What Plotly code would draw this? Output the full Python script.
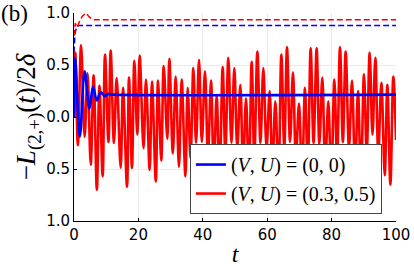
import plotly.graph_objects as go

# ---- data ----
red_peak_t = [0.4, 2.2, 4.2, 6.1, 7.9, 9.63, 11.39, 13.25, 15.22, 17.08, 18.74, 20.39, 22.36, 24.22,
              26.09, 27.85, 29.61, 31.57, 33.44, 35.30, 37.06, 38.82, 40.68, 42.55, 44.31, 46.17,
              47.93, 49.79, 51.66, 53.42, 55.18, 56.94, 58.80, 60.77, 62.53, 64.39, 66.15, 68.01,
              69.88, 71.74, 73.50, 75.36, 77.12, 78.98, 80.85, 82.61, 84.37, 86.34, 88.20, 90.06,
              91.82, 93.58, 95.45, 97.31, 99.17]
red_peak_v = [0.62, 0.69, 0.42, 0.40, 0.30, 0.60, 0.64, 0.375, 0.28, 0.38, 0.54, 0.59, 0.36, 0.34,
              0.35, 0.49, 0.56, 0.39, 0.36, 0.28, 0.47, 0.55, 0.44, 0.35, 0.21, 0.48,
              0.57, 0.47, 0.31, 0.18, 0.53, 0.63, 0.47, 0.25, 0.15, 0.60, 0.67, 0.43,
              0.13, 0.28, 0.66, 0.66, 0.38, 0.15, 0.36, 0.67, 0.63, 0.35, 0.25, 0.41,
              0.62, 0.57, 0.33, 0.31, 0.39]
red_trough_t = [1.2, 3.3, 5.2, 7.1, 8.9, 10.7, 12.4, 14.49, 16.46, 18.0, 19.67, 21.6, 23.5, 25.4,
                27.1, 28.98, 30.7, 32.6, 34.6, 36.2, 37.9, 39.7, 41.6, 43.4, 45.2, 47.0, 48.9,
                50.7, 52.5, 54.3, 56.0, 57.9, 59.8, 61.6, 63.5, 65.3, 67.1, 68.9, 70.8, 72.6,
                74.4, 76.2, 78.0, 79.9, 81.7, 83.5, 85.4, 87.3, 89.1, 90.9, 92.7, 94.5, 96.5,
                98.25]
red_trough_v = [-0.27, -0.19, -0.46, -0.70, -0.57, -0.24, -0.25, -0.49, -0.67, -0.49, -0.17, -0.30,
                -0.51, -0.62, -0.42, -0.21, -0.35, -0.48, -0.57, -0.40, -0.25, -0.24, -0.38,
                -0.55, -0.62, -0.35, -0.25, -0.30, -0.50, -0.62, -0.40, -0.25, -0.30, -0.52,
                -0.60, -0.30, -0.24, -0.40, -0.62, -0.50, -0.25, -0.26, -0.50, -0.65, -0.40,
                -0.24, -0.30, -0.55, -0.60, -0.35, -0.17, -0.36, -0.56, -0.65]
red_start = (0.0, 0.0)
red_end = (100.0, -0.22)

blue_t = [0.0, 0.35, 1.8, 3.3, 4.8, 5.9, 7.1, 8.3, 9.5, 10.5, 12.0, 100.0]
blue_v = [0.0, 0.57, -0.19, 0.44, 0.08, 0.29, 0.16, 0.24, 0.20, 0.22, 0.215, 0.215]

blue_dash_t = [0.0, 0.3, 0.8, 1.5, 100.0]
blue_dash_v = [0.62, 0.80, 0.87, 0.88, 0.88]
red_dash_t = [0.0, 0.4, 1.0, 1.6, 2.6, 3.7, 4.8, 6.0, 100.0]
red_dash_v = [0.78, 0.90, 0.86, 0.91, 0.97, 1.0, 0.96, 0.935, 0.935]

x_ticks = [0, 20, 40, 60, 80, 100]
y_ticks = [-1.0, -0.5, 0.0, 0.5, 1.0]
y_ticklabels = ["1.0", "0.5", "0.0", "0.5", "1.0"]

labels = ["(<i>V</i>, <i>U</i>) = (0, 0)", "(<i>V</i>, <i>U</i>) = (0.3, 0.5)"]

# merge red extrema
pts = [red_start] + list(zip(red_peak_t, red_peak_v)) + list(zip(red_trough_t, red_trough_v)) + [red_end]
pts.sort()
red_t = [p[0] for p in pts]
red_v = [p[1] for p in pts]

BLUE = "#0000ff"
RED = "#ff0000"
SERIF = "Liberation Serif, DejaVu Serif, serif"
SANS = "DejaVu Sans, sans-serif"

fig = go.Figure()
fig.add_trace(go.Scatter(x=blue_dash_t, y=blue_dash_v, mode="lines", showlegend=False,
                         line=dict(color=BLUE, width=1.5, dash="6px,3px")))
fig.add_trace(go.Scatter(x=red_dash_t, y=red_dash_v, mode="lines", showlegend=False,
                         line=dict(color=RED, width=1.5, dash="6px,3px")))
fig.add_trace(go.Scatter(x=red_t, y=red_v, mode="lines", name=labels[1], legendrank=2,
                         line=dict(color=RED, width=2.6, shape="spline", smoothing=1.0)))
fig.add_trace(go.Scatter(x=blue_t, y=blue_v, mode="lines", name=labels[0], legendrank=1,
                         line=dict(color=BLUE, width=2.6, shape="spline", smoothing=1.0)))

fig.update_layout(
    width=414, height=269,
    margin=dict(l=74, r=18, t=13, b=48),
    paper_bgcolor="white", plot_bgcolor="white",
    font=dict(family=SANS, size=15, color="black"),
    legend=dict(x=0.36, y=0.37, xanchor="left", yanchor="top",
                bgcolor="white", bordercolor="#444444", borderwidth=1,
                font=dict(family=SERIF, size=20, color="black"),
                itemwidth=30, tracegroupgap=0),
    annotations=[dict(text="(b)", xref="paper", yref="paper", x=-0.232, y=1.0,
                      xanchor="left", yanchor="middle", showarrow=False,
                      font=dict(family=SERIF, size=23, color="black"))],
)
fig.update_xaxes(range=[0, 100], tickvals=x_ticks, showgrid=True, gridcolor="#ebebeb",
                 showline=True, linecolor="black", linewidth=1, ticks="inside", ticklen=3,
                 tickcolor="black", zeroline=False, tickfont=dict(family=SANS, size=15),
                 automargin=False,
                 title=dict(text="<i>t</i>", font=dict(family=SERIF, size=24), standoff=2))
fig.update_yaxes(range=[-1, 1], tickvals=y_ticks, ticktext=y_ticklabels, showgrid=True,
                 gridcolor="#ebebeb", showline=True, linecolor="black", linewidth=1,
                 ticks="inside", ticklen=3, tickcolor="black", zeroline=False,
                 tickfont=dict(family=SANS, size=15), automargin=False,
                 title=dict(text="−<i>L</i><sub>(2,+)</sub>(<i>t</i>)/2<i>δ</i>",
                            font=dict(family=SERIF, size=27), standoff=2))

fig.write_html("out.html", config={"displayModeBar": False},
               post_script="document.body.style.margin='0px';document.body.style.overflow='hidden';")
